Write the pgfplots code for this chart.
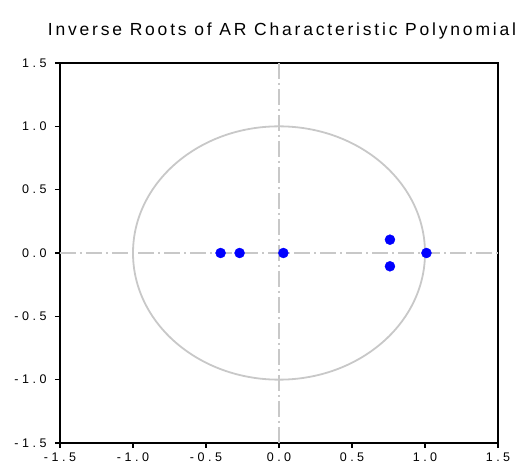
\documentclass[border=0pt]{standalone}
\usepackage{pgfplots}
\pgfplotsset{compat=1.18}
\usepackage{fontspec}
\setmainfont{Liberation Sans}
\newfontfamily\tickfont[LetterSpace=28]{Liberation Sans}
\newfontfamily\titlefont[LetterSpace=16]{Liberation Sans}
\definecolor{circgray}{RGB}{200,200,200}
\definecolor{ptblue}{RGB}{0,0,255}
\begin{document}
\begin{tikzpicture}
\useasboundingbox (-60pt,-25pt) rectangle (470pt,443pt);
\begin{axis}[
  at={(0pt,0pt)}, anchor=south west,
  scale only axis,
  width=438pt, height=380pt,
  xmin=-1.5, xmax=1.5, ymin=-1.5, ymax=1.5,
  xtick={-1.5,-1,...,1.5}, ytick={-1.5,-1,...,1.5},
  xticklabels={-1.5,-1.0,-0.5,0.0,0.5,1.0,1.5},
  yticklabels={-1.5,-1.0,-0.5,0.0,0.5,1.0,1.5},
  ticklabel style={font=\tickfont\fontsize{12.5}{14}\selectfont},
  tick align=outside, tick pos=left,
  major tick length=5pt,
  tick style={black, line width=1.4pt},
  axis line style={black, line width=2pt},
  clip=false,
  title={\titlefont\fontsize{17.5}{20}\selectfont Inverse Roots of AR Characteristic Polynomial},
  title style={yshift=14pt, xshift=3pt},
  xticklabel style={yshift=-1pt},
  yticklabel style={xshift=-5pt},
]
\draw[circgray, line width=1.8pt] (axis cs:0,0) ellipse [x radius=1, y radius=1];
\draw[circgray, line width=1.8pt, dash pattern=on 16pt off 4pt on 2pt off 4pt] (axis cs:-1.5,0) -- (axis cs:1.5,0);
\draw[circgray, line width=1.8pt, dash pattern=on 16pt off 4pt on 2pt off 4pt] (axis cs:0,1.5) -- (axis cs:0,-1.5);
\addplot[only marks, mark=*, mark size=5pt, color=ptblue, mark options={fill=ptblue, draw=ptblue}] coordinates {
  (-0.40,0) (-0.27,0) (0.03,0) (0.76,0.105) (0.76,-0.105) (1.01,0)
};
\end{axis}
\end{tikzpicture}
\end{document}
